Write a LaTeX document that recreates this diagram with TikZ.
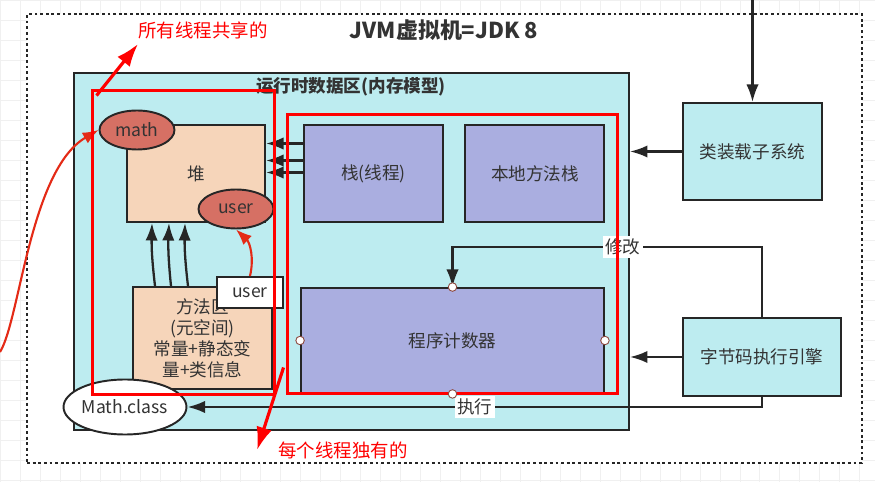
\documentclass[tikz,border=0pt]{standalone}
\usepackage{fontspec}
\setmainfont{Noto Sans CJK SC}
\usetikzlibrary{positioning, arrows.meta, shapes.geometric}

\definecolor{edge}{RGB}{38,38,38}
\definecolor{txt}{RGB}{51,51,51}
\definecolor{rtcyan}{RGB}{189,236,240}
\definecolor{peach}{RGB}{246,213,186}
\definecolor{salmon}{RGB}{214,112,100}
\definecolor{lavender}{RGB}{170,174,224}
\definecolor{arrowred}{RGB}{228,42,22}
\definecolor{handleedge}{RGB}{140,70,60}

\begin{document}
\begin{tikzpicture}[x=0.02cm, y=-0.02cm, node distance=1cm, on grid,
  box/.style={draw=edge, line width=1.1pt, inner sep=0pt, text=txt,
    font=\fontsize{10}{12}\selectfont},
  heapbox/.style={box, fill=peach},
  stackbox/.style={box, fill=lavender, minimum width=2.78cm, minimum height=1.94cm},
  sysbox/.style={box, fill=rtcyan},
  obj/.style={box, ellipse, fill=salmon, minimum width=1.5cm, minimum height=0.78cm},
  title/.style={text=txt, inner sep=0pt, font=\bfseries\fontsize{12.5}{14}\selectfont},
  subtitle/.style={text=txt, inner sep=0pt, font=\bfseries\fontsize{10}{12}\selectfont},
  redfrm/.style={draw=red, line width=1.7pt, inner sep=0pt},
  note/.style={text=red, inner sep=0pt, font=\fontsize{10.5}{12}\selectfont},
  lbl/.style={fill=white, inner sep=1.5pt, text=txt, font=\fontsize{10}{12}\selectfont},
  link/.style={-{Latex[length=10pt,width=7pt]}, draw=edge, line width=1.3pt},
  redlink/.style={-{Latex[length=9pt,width=7pt]}, draw=arrowred, line width=1.2pt},
  notelink/.style={-{Latex[length=13pt,width=9pt]}, draw=red, line width=1.8pt},
  handle/.style={circle, draw=handleedge, fill=white, inner sep=0pt,
    minimum size=0.17cm, line width=0.5pt}]

  \useasboundingbox (0,0) rectangle (875,482);
  \fill[white] (0,0) rectangle (875,482);
  \draw[gray!12, line width=0.4pt, step=0.4cm] (0,0) grid (875,482);

  % jvm frame
  \node[fill=white, draw=edge, line width=1.6pt, dash pattern=on 1.6pt off 1.6pt,
    minimum width=16.7cm, minimum height=8.98cm] (jvm) at (444.5,238.5) {};
  \node[title] (jvmtitle) at (444,30) {JVM虚拟机=JDK 8};

  % runtime data area
  \node[sysbox, minimum width=11.1cm, minimum height=7.14cm] (runtime) at (351.5,251.5) {};
  \node[subtitle] (rttitle) at (351,87) {运行时数据区(内存模型)};

  \node[heapbox, minimum width=2.76cm, minimum height=1.94cm] (heap) at (196,173.5) {堆};
  \node[stackbox, right=3.55cm of heap] (stack) {栈(线程)};
  \node[stackbox, right=3.23cm of stack] (native) {本地方法栈};
  \node[stackbox, minimum width=6.06cm, minimum height=2.1cm] (pc) at (452.5,340.5) {程序计数器};
  \node[heapbox, minimum width=2.78cm, minimum height=2.04cm, align=center] (method) at (202.5,338)
    {方法区\\(元空间)\\常量+静态变\\量+类信息};

  \node[obj] (math) at (137,130) {math};
  \node[obj] (user) at (236,209) {user};
  \node[box, fill=white, minimum width=1.32cm, minimum height=0.62cm] (userref) at (250,292.5) {user};
  \node[box, ellipse, fill=white, minimum width=2.46cm, minimum height=1.1cm] (mathcls) at (125,407) {Math.class};

  % outside the runtime area
  \node[sysbox, minimum width=2.78cm, minimum height=1.94cm] (loader) at (752.5,151.5) {类装载子系统};
  \node[sysbox, minimum width=3.16cm, minimum height=1.56cm] (engine) at (762,357) {字节码执行引擎};
  \coordinate (feed) at (752.5,0);
  \coordinate (offleft) at (0,352);

  \draw[link] ([yshift=0.6cm]stack.west) -- ([yshift=0.6cm]heap.east);
  \draw[link] ([yshift=0.26cm]stack.west) -- ([yshift=0.26cm]heap.east);
  \draw[link] ([yshift=0.02cm]stack.west) -- ([yshift=0.02cm]heap.east);

  \draw[link] ([xshift=-0.95cm]method.north) to[bend left=4] ([xshift=-0.88cm]heap.south);
  \draw[link] ([xshift=-0.63cm]method.north) to[bend left=4] ([xshift=-0.54cm]heap.south);
  \draw[link] ([xshift=-0.29cm]method.north) to[bend left=4] ([xshift=-0.22cm]heap.south);

  \draw[redlink] (userref.north) to[bend right=30] (user.south);
  \draw[redlink] (offleft) .. controls (20,320) and (30,170) .. (math.west);

  \draw[link] (feed) -- (loader.north);
  \draw[link] (loader.west) -- (loader.west -| runtime.east);
  \draw[link] (engine.west) -- (engine.west -| runtime.east);
  \draw[link] (engine.north) -- (engine.north |- 0,247) -- node[lbl, pos=0.45] (modlbl) {修改} (pc.north |- 0,247) -- (pc.north);
  \draw[link] (engine.south) |- node[lbl, pos=0.75] (execlbl) {执行} (mathcls.east);

  % shared / per thread
  \node[redfrm, minimum width=3.66cm, minimum height=6.1cm] (shared) at (183.5,242.5) {};
  \node[redfrm, minimum width=6.62cm, minimum height=5.6cm] (private) at (452.5,254) {};
  \node[note] (sharednote) at (203,30) {所有线程共享的};
  \node[note] (privnote) at (343,450) {每个线程独有的};
  \draw[notelink] ([xshift=0.12cm,yshift=-0.14cm]shared.north west) -- ([yshift=-0.1cm]sharednote.south west);
  \draw[notelink] ([xshift=-0.04cm,yshift=0.56cm]private.south west) -- ([xshift=-0.42cm]privnote.west);

  \node[handle] (hn) at (pc.north) {};
  \node[handle] (hs) at (pc.south) {};
  \node[handle] (hw) at (pc.west) {};
  \node[handle] (he) at (pc.east) {};
\end{tikzpicture}
\end{document}
